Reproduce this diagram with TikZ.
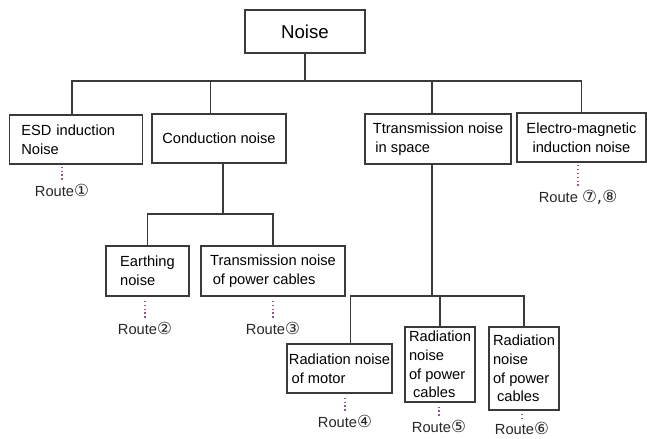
\documentclass[tikz,border=0pt]{standalone}
\usepackage{fontspec}
\setmainfont{Liberation Sans}
\newfontfamily\symfont{DejaVu Sans}
\usetikzlibrary{positioning}
\definecolor{ink}{HTML}{3A3A3A}
\definecolor{dotc}{HTML}{A0508C}
\tikzset{box/.style={draw=ink,line width=0.9pt,align=left,inner xsep=2pt,inner ysep=2pt,
  font=\fontsize{11}{14}\selectfont,text=black},
  link/.style={draw=ink,line width=1pt},
  route/.style={font=\fontsize{11}{14}\selectfont,inner sep=2pt,text=black!85},
  dotline/.style={draw=dotc,dotted,line width=0.9pt,shorten >=2pt,shorten <=1pt}}
\newcommand{\rt}[1]{Route{\symfont\fontsize{12.5}{14}\selectfont #1}}

\begin{document}
\begin{tikzpicture}[x=0.75pt,y=-0.75pt]
\useasboundingbox (0,0) rectangle (647,439);
% top level
\node[box,align=center,minimum width=90pt,minimum height=32.25pt,font=\fontsize{14}{16}\selectfont] (noise) at (305,31.5) {Noise};
\node[box,text width=82pt,inner xsep=9pt,minimum height=36.75pt] (esd) at (76,139.5) {ESD induction\\Noise};
\node[box,align=center,minimum width=100.5pt,minimum height=36.75pt] (cond) at (219,138.5) {Conduction noise};
\node[box,minimum width=109.5pt,minimum height=37.5pt] (tspace) at (438,139) {Ttransmission noise\\\hspace*{2pt}in space};
\node[box,align=center,minimum width=96.75pt,minimum height=36.75pt] (em) at (581.5,137.5) {Electro-magnetic\\induction noise};
% conduction branch
\node[box,minimum width=62.25pt,minimum height=37.5pt] (earth) at (147.5,271) {Earthing\\noise};
\node[box,minimum width=108pt,minimum height=37.5pt] (tcable) at (273,271) {Transmission noise\\\hspace*{2pt}of power cables};
% space branch
\node[box,inner xsep=1.5pt,minimum width=78.75pt,minimum height=36.75pt] (rmotor) at (339.5,368.5) {Radiation noise\\\hspace*{2pt}of motor};
\node[box,minimum width=52.5pt,minimum height=56.25pt] (rcab5) at (440,364.5) {Radiation\\noise\\of power\\\hspace*{3pt}cables};
\node[box,minimum width=52.5pt,minimum height=62.25pt] (rcab6) at (524,368.5) {Radiation\\noise\\of power\\\hspace*{3pt}cables};
% routes
\node[route] (r1) at (62,190) {\rt{①}};
\node[route] (r2) at (145,328) {\rt{②}};
\node[route] (r3) at (273,328) {\rt{③}};
\node[route] (r4) at (345,421) {\rt{④}};
\node[route] (r5) at (439,426) {\rt{⑤}};
\node[route] (r6) at (522,428) {\rt{⑥}};
\node[route] (r78) at (578,197) {Route {\symfont\fontsize{12.5}{14}\selectfont ⑦,⑧}};
% tree lines
\coordinate (b1) at (noise.south |- 0,81);
\coordinate (b2) at ([xshift=3pt]cond.south |- 0,214);
\coordinate (b3) at ([xshift=-4.5pt]tspace.south |- 0,296);
\draw[link] (noise.south) -- (b1);
\draw[link] ([xshift=-3pt]esd.north) |- (b1) -| (em.north);
\draw[link] ([xshift=-6.5pt]cond.north) -- ([xshift=-6.5pt]cond.north |- b1);
\draw[link] ([xshift=-4.5pt]tspace.north) -- ([xshift=-4.5pt]tspace.north |- b1);
\draw[link] ([xshift=3pt]cond.south) -- (b2);
\draw[link] (earth.north) |- (b2) -| (tcable.north);
\draw[link] ([xshift=-4.5pt]tspace.south) -- (b3);
\draw[link] ([xshift=8pt]rmotor.north) |- (b3) -| (rcab6.north);
\draw[link] (rcab5.north) -- (rcab5.north |- b3);
% dotted leaders
\draw[dotline] (r1.north) -- (r1.north |- esd.south);
\draw[dotline] (r2.north) -- (r2.north |- earth.south);
\draw[dotline] (r3.north) -- (r3.north |- tcable.south);
\draw[dotline] (r4.north) -- (r4.north |- rmotor.south);
\draw[dotline] (r5.north) -- (r5.north |- rcab5.south);
\draw[dotline,shorten >=1pt,shorten <=0pt] (r6.north) -- (r6.north |- rcab6.south);
\draw[dotline] (r78.north) -- (r78.north |- em.south);
\end{tikzpicture}
\end{document}
